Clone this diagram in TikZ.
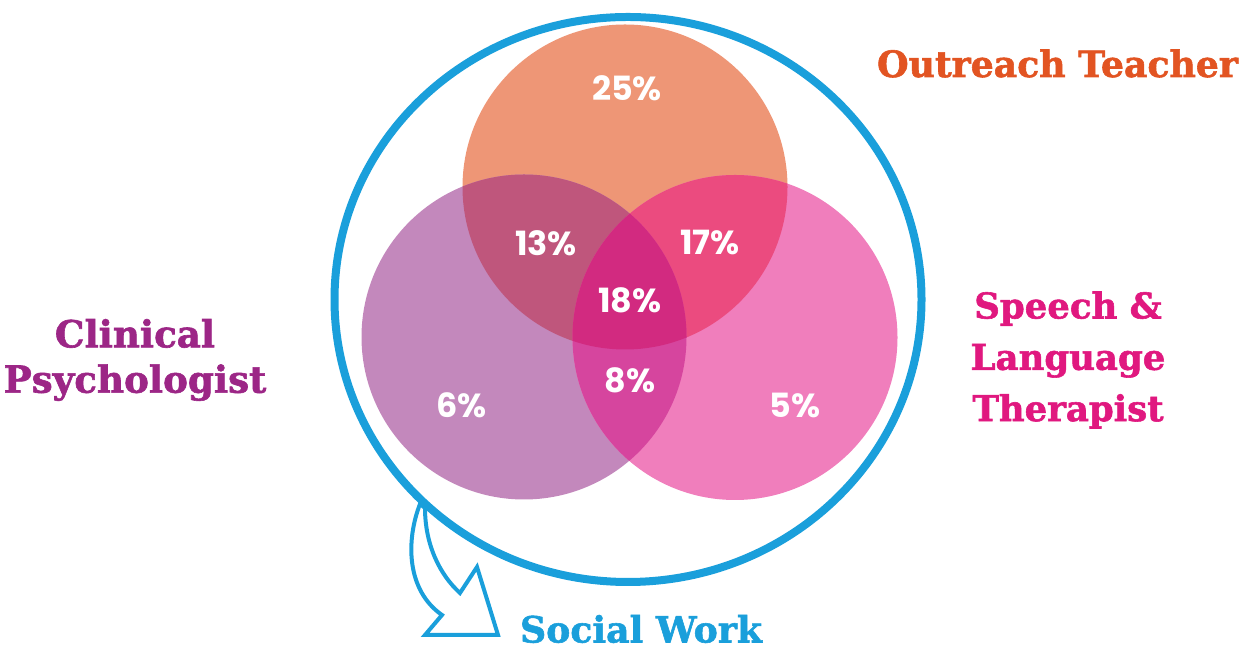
\documentclass[tikz,border=0pt]{standalone}
\usepackage{fontspec}
\setmainfont{DejaVu Serif}[BoldFeatures={FakeBold=1.6}]
\newfontfamily\pctfont{Poppins}

\definecolor{ringblue}{RGB}{26,159,219}
\definecolor{teachorange}{RGB}{238,150,118}
\definecolor{psychpurple}{RGB}{195,136,188}
\definecolor{speechpink}{RGB}{240,126,188}
\definecolor{teachpsych}{RGB}{191,86,124}
\definecolor{teachspeech}{RGB}{235,75,127}
\definecolor{psychspeech}{RGB}{214,69,158}
\definecolor{allthree}{RGB}{210,42,128}
\definecolor{teachtext}{RGB}{226,84,34}
\definecolor{psychtext}{RGB}{156,38,134}
\definecolor{speechtext}{RGB}{224,24,127}

\begin{document}
\begin{tikzpicture}[
    pct/.style={font=\pctfont\bfseries\fontsize{19}{21}\selectfont, text=white, inner sep=0pt},
    lbl/.style={font=\bfseries\fontsize{20.6}{25.5}\selectfont, inner sep=0pt, align=center}]
    \useasboundingbox (0,0) rectangle (25,13);
    \coordinate (O) at (12.50,9.26);
    \coordinate (P) at (10.48,6.26);
    \coordinate (K) at (14.70,6.25);
    % three circles
    \fill[teachorange] (O) circle (3.25cm);
    \fill[psychpurple] (P) circle (3.25cm);
    \fill[speechpink] (K) circle (3.25cm);
    % overlaps
    \begin{scope}
        \clip (O) circle (3.25cm);
        \fill[teachpsych] (P) circle (3.25cm);
        \fill[teachspeech] (K) circle (3.25cm);
    \end{scope}
    \begin{scope}
        \clip (P) circle (3.25cm);
        \fill[psychspeech] (K) circle (3.25cm);
        \clip (K) circle (3.25cm);
        \fill[allthree] (O) circle (3.25cm);
    \end{scope}
    % social work arrow
    \draw[ringblue, line width=0.08cm, line join=miter] (8.40,2.92)
        .. controls (8.12,2.20) and (8.12,1.20) .. (8.84,0.70)
        -- (8.50,0.30) -- (9.96,0.30) -- (9.54,1.66) -- (9.20,1.14)
        .. controls (8.80,1.50) and (8.50,2.10) .. (8.50,2.84) -- cycle;
    \draw[ringblue, line width=0.16cm] (12.56,7.01) ellipse (5.87cm and 5.65cm);
    % values
    \node[pct] (v25) at (12.54,11.24) {25\%};
    \node[pct] (v13) at (10.92,8.14) {13\%};
    \node[pct] (v17) at (14.20,8.14) {17\%};
    \node[pct] (v18) at (12.60,7.00) {18\%};
    \node[pct] (v8) at (12.60,5.40) {8\%};
    \node[pct] (v6) at (9.23,4.89) {6\%};
    \node[pct] (v5) at (15.90,4.89) {5\%};
    % labels
    \node[lbl, text=teachtext, anchor=base] (teacher) at (21.15,11.46) {Outreach Teacher};
    \node[lbl, text=psychtext, font=\bfseries\fontsize{21.2}{25.8}\selectfont] (psych) at (2.70,5.80) {Clinical\\Psychologist};
    \node[lbl, text=speechtext, font=\bfseries\fontsize{20.2}{29.2}\selectfont] (speech) at (21.36,5.80) {Speech \&\\Language\\Therapist};
    \node[lbl, text=ringblue, anchor=base] (social) at (12.82,0.15) {Social Work};
\end{tikzpicture}
\end{document}
